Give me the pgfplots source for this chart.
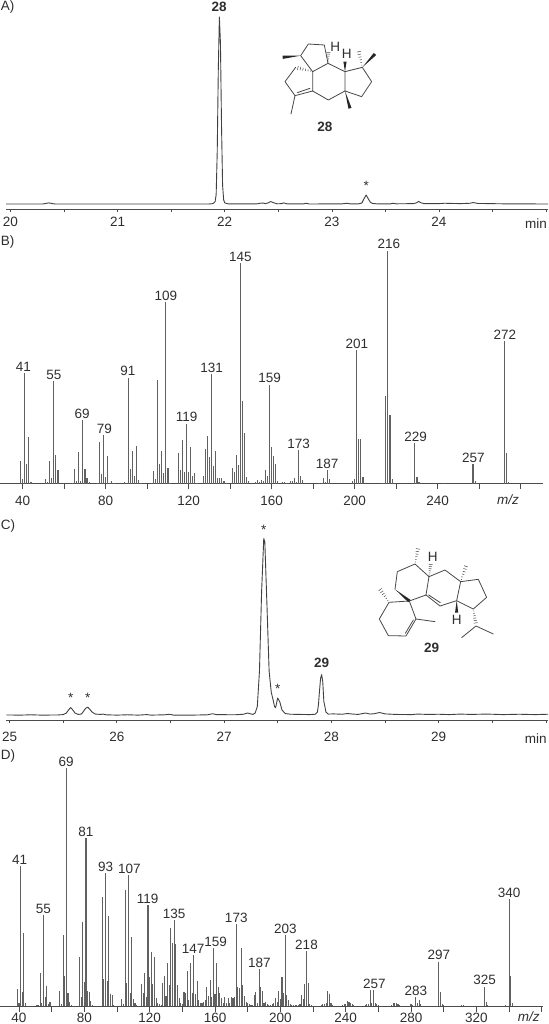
\documentclass[border=0pt]{standalone}
\usepackage{pgfplots}
\pgfplotsset{compat=1.18}
\usetikzlibrary{calc}
\usepackage{fontspec}
\setmainfont{Liberation Sans}
\newdimen\pu \pu=0.6pt % one pixel of the reference

\colorlet{ink}{black!82}
\pgfplotsset{
  panel/.style={
    scale only axis, width=#1, clip=false,
    axis x line=bottom, axis y line=none,
    axis line style={-,black!70,line width=0.8\pu},
    tick align=outside,
    every tick/.style={black!70,line width=0.7\pu},
    minor tick style={black!70,line width=0.7\pu},
    tick label style={font=\fontsize{8.1}{9.7}\selectfont,text=ink},
    /pgf/number format/assume math mode=true,
  },
  ticks/.style 2 args={
    major tick length=#1\pu, minor tick length=#1\pu,
    x tick label style={inner sep=0pt,anchor=base,yshift=#2\pu},
  },
  chrom/.style={no marks,sharp plot,black!75,line width=0.9\pu,line join=round},
  ms/.style={no marks,ycomb,black!62,line width=1.1\pu},
}
\tikzset{
  txt/.style={font=\fontsize{8.1}{9.7}\selectfont,text=ink,inner sep=0pt},
  pk/.style={txt,anchor=south,yshift=1.2\pu},
  bond/.style={draw=black!72,line width=0.8\pu,line cap=round,line join=round},
}
% mass peak label: [xshift in px]{m/z}{intensity}{text}
\newcommand{\pk}[4][0]{\node[pk,xshift=#1\pu] at (axis cs:#2,#3) {#4};}
% stereo bonds for the drawn structures
\newcommand{\wdg}[2]{\fill[black!85] (#1) -- ($(#2)!1.6\pu!90:(#1)$) -- ($(#2)!1.6\pu!-90:(#1)$) -- cycle;}
\newcommand{\hashed}[2]{\foreach \q/\w in {.12/0.5,.27/0.8,.42/1.1,.57/1.4,.72/1.7,.87/2.0,1/2.3}{
  \draw[black!72,line width=0.5\pu] ($(#1)!\q!(#2)!\w\pu!90:(#2)$) -- ($(#1)!\q!(#2)!\w\pu!-90:(#2)$);}}

\begin{document}
\begin{tikzpicture}
\path[use as bounding box] (0,0) rectangle (549\pu,-1024\pu);

% ---- A) chromatogram
\begin{axis}[panel=542\pu, ticks={2.8}{-14.6}, height=199.5\pu, at={(6\pu,-209.5\pu)}, anchor=south west,
  xmin=19.958, xmax=25.018, ymin=-2.94, ymax=103.7,
  xtick={20,21,22,23,24,25}, xticklabels={20,21,22,23,24,},
  minor xtick={20.5,21.5,22.5,23.5,24.5}]
\addplot[chrom] coordinates {
(19.96,0)(20.1,0)(20.3,0)(20.33,.3)(20.36,.6)(20.39,.2)(20.42,0)(20.8,0)(21.2,0)(21.6,0)
(21.85,0)(21.89,.2)(21.91,1.2)(21.92,5)(21.93,28)(21.94,72)(21.95,100)(21.96,86)(21.97,42)
(21.98,10)(21.99,2.2)(22.0,.6)(22.03,.1)(22.3,.05)(22.33,.4)(22.36,.5)(22.38,.2)(22.40,.5)
(22.43,1.3)(22.46,.6)(22.49,.1)(22.53,.2)(22.55,.6)(22.58,.1)(22.74,.1)(22.76,.4)(22.79,0)
(23.1,.1)(23.14,.4)(23.17,.1)(23.25,.1)(23.28,.5)(23.30,2.8)(23.32,4.8)(23.34,2.8)(23.36,.9)
(23.38,.3)(23.42,.1)(23.55,.1)(23.57,.4)(23.6,.1)(23.76,.2)(23.79,.6)(23.81,1.4)(23.83,.7)
(23.86,.2)(24.0,.2)(24.05,.4)(24.2,.2)(24.29,.4)(24.32,.8)(24.36,.3)(24.6,.1)(25.02,0)};
\node[txt,anchor=base east] at (axis cs:25.01,-13.2) {min};
\node[txt] at (axis cs:23.32,9.7) {*};
\end{axis}

% ---- B) mass spectrum of 28
\begin{axis}[panel=542.7\pu, ticks={5.5}{-16.6}, height=238.7\pu, at={(0\pu,-483.7\pu)}, anchor=south west,
  xmin=29.06, xmax=290.6, ymin=0, ymax=102.4,
  xtick={40,80,120,160,200,240}, minor xtick={60,100,140,180,220,260,280},
  xticklabels={40,80,120,160,200,240}]
\addplot[ms] coordinates {
(39,9.9)(40,1.9)(41,47.6)(42,8.4)(43,20.2)(44,.9)(51,1.9)(52,.9)(53,9.7)(54,2.3)(55,44)(56,12.3)(57,5.9)
(63,.4)(64,.4)(65,6.3)(66,1.1)(67,13.6)(68,1.1)(69,27.3)(70,6.3)(71,2.6)(72,.6)
(76,.3)(77,17.7)(78,4.1)(79,20.9)(80,2.9)(81,12)(82,.5)(83,1)(84,.4)
(89,.7)(90,.3)(91,45.5)(92,6.3)(93,13.9)(94,3.3)(95,16.2)(96,1.6)(97,.4)
(102,.2)(103,5.4)(104,1.9)(105,44.5)(106,8.4)(107,13.9)(108,4.7)(109,77.8)(110,6.9)(111,.5)
(115,13.3)(116,5.9)(117,18.7)(118,5.2)(119,25.8)(120,5.2)(121,15.6)(122,3.4)(123,4.4)(124,.4)
(127,3.3)(128,14.7)(129,20.5)(130,11.6)(131,47)(132,7.6)(133,13.9)(134,2.6)(135,2.4)(136,2.3)(137,1.3)(138,.4)
(141,6.7)(142,5.2)(143,12.4)(144,8)(145,94.8)(146,35.3)(147,21.7)(148,2.9)(149,1)
(152,.7)(153,1.7)(154,.6)(155,1.7)(156,1.1)(157,5.7)(158,3.4)(159,42.5)(160,15.7)(161,12)(162,8.3)(163,1)
(165,.6)(166,.6)(167,.4)(169,1)(170,1)(171,2.3)(172,.9)(173,14.6)(174,3.4)(175,1.6)
(183,.3)(184,.5)(185,2.3)(186,.7)(187,6)(188,1.9)
(199,1.1)(200,1.9)(201,57.4)(202,19.2)(203,19.2)(204,2.9)
(213,.3)(214,.4)(215,37.6)(216,100)(217,29.5)(218,1.9)
(229,17.6)(230,2.9)(231,.6)(243,.3)(257,8.3)(258,1.1)(272,61.2)(273,13)(274,.9)};
\pk[-1.5]{41}{47.6}{41}\pk{55}{44}{55}\pk[-0.7]{69}{27.3}{69}\pk[0.7]{79}{20.9}{79}
\pk[-0.7]{91}{45.5}{91}\pk{109}{77.8}{109}\pk{119}{25.8}{119}\pk{131}{47}{131}
\pk[-0.3]{145}{94.8}{145}\pk{159}{42.5}{159}\pk{173}{14.6}{173}\pk[-0.7]{187}{6}{187}
\pk{201}{57.4}{201}\pk[1]{216}{100}{216}\pk[0.7]{229}{17.6}{229}\pk[0.3]{257}{8.3}{257}\pk[0.7]{272}{61.2}{272}
\node[txt,anchor=base] at (axis cs:273.9,-9) {\textit{m/z}};
\end{axis}

% ---- C) chromatogram
\begin{axis}[panel=542\pu, ticks={2.8}{-18.6}, height=190.5\pu, at={(6\pu,-720.5\pu)}, anchor=south west,
  xmin=24.967, xmax=30.02, ymin=-2.94, ymax=104.8,
  xtick={25,26,27,28,29,30}, xticklabels={25,26,27,28,29,},
  minor xtick={25.5,26.5,27.5,28.5,29.5}]
\addplot[chrom] coordinates {
(24.97,.2)(25.1,.1)(25.2,.3)(25.3,.1)(25.45,.2)(25.5,.4)(25.53,1.3)(25.55,3)(25.57,4.4)(25.59,3)(25.61,1.3)
(25.64,.5)(25.67,.7)(25.69,2.3)(25.71,4)(25.73,4.6)(25.75,3.3)(25.77,1.8)(25.8,.7)(25.85,.5)(25.87,.7)(25.9,.3)
(26.0,.1)(26.1,.3)(26.2,.1)(26.28,.4)(26.32,.1)(26.45,.3)(26.49,.6)(26.53,.1)(26.7,.1)(26.85,.3)(26.89,.9)(26.93,.4)
(27.1,.3)(27.18,.6)(27.22,1.3)(27.25,.8)(27.27,.5)(27.29,1.3)(27.31,5)(27.33,25)(27.35,70)(27.37,100)(27.38,98)
(27.40,62)(27.42,25)(27.44,13)(27.46,8)(27.47,5)(27.48,4.3)(27.49,7)(27.50,9.8)(27.52,7.5)(27.54,3)(27.57,1)
(27.62,.6)(27.8,.4)(27.85,.6)(27.87,1.8)(27.88,6)(27.89,14)(27.90,21)(27.91,23)(27.92,19)(27.93,8)(27.95,1.8)(27.97,.7)
(28.02,.8)(28.1,.6)(28.15,1)(28.2,.7)(28.25,.5)(28.32,1.3)(28.36,.7)(28.4,.9)(28.45,1.6)(28.5,.8)(28.6,.5)(28.75,.4)
(28.8,.7)(28.9,.5)(29,.6)(29.1,.4)(29.2,.7)(29.3,.5)(29.45,.7)(29.6,.4)(29.75,.6)(29.9,.4)(30.02,.6)};
\node[txt,anchor=base east] at (axis cs:30.01,-16.2) {min};
\node[txt] at (axis cs:25.57,9.8) {*};
\node[txt] at (axis cs:25.73,9.8) {*};
\node[txt] at (axis cs:27.37,105) {*};
\node[txt] at (axis cs:27.50,15.2) {*};
\node[txt] at (axis cs:27.91,29.5) {\textbf{29}};
\end{axis}

% ---- D) mass spectrum of 29
\begin{axis}[panel=542.7\pu, ticks={5.5}{-11}, height=246.3\pu, at={(0\pu,-1006.3\pu)}, anchor=south west,
  xmin=28.37, xmax=360.6, ymin=0, ymax=103.5,
  xtick={40,80,120,160,200,240,280,320}, minor xtick={60,100,140,180,220,260,300,340,360},
  xticklabels={40,80,120,160,200,240,280,320}]
\addplot[ms] coordinates {
(39,7.1)(40,1.3)(41,59)(42,6.2)(43,31)(44,1.3)(51,.5)(52,.6)(53,13.9)(54,1.3)(55,38.5)(56,4)(57,8.5)(58,.8)(59,2)
(65,6.6)(66,1)(67,30)(68,12.7)(69,100)(70,5.7)(71,2)(72,.5)
(77,20.7)(78,4)(79,35.4)(80,10.4)(81,70.7)(82,6.6)(83,5.9)(84,2.3)(85,.5)
(91,46)(92,11.3)(93,56)(94,10.8)(95,38)(96,5.2)(97,4.8)(98,.7)
(103,3.2)(104,.8)(105,49)(106,10)(107,55)(108,5.5)(109,29)(110,3)(111,1.5)(112,.5)
(115,9.4)(116,5.7)(117,14)(118,4)(119,42.6)(120,12.5)(121,22.8)(122,9.2)(123,20.6)(124,3.4)(125,1.5)(126,1)
(127,.7)(128,9.7)(129,12.7)(130,4.3)(131,18)(132,9)(133,33)(134,26.5)(135,36.3)(136,26)(137,9)(138,3.4)(139,1.3)(140,1)
(141,5.9)(142,5.5)(143,15)(144,2.7)(145,18)(146,5.5)(147,21.6)(148,5.2)(149,10.8)(150,2.7)(151,1.5)(152,1.5)(153,2)(154,2.5)
(155,8.3)(156,4.3)(157,11)(158,4)(159,24.5)(160,5)(161,18.2)(162,8.3)(163,5.5)(164,3.4)(165,1.5)(166,4)(167,1.5)(168,3.4)(169,1.5)
(170,4)(171,3.4)(172,3.8)(173,34.6)(174,8.3)(175,7.6)(176,24.4)(177,9)(178,4.3)(179,1.8)(180,1.4)(181,1)(182,.7)(183,.7)
(184,4.6)(185,6.2)(186,1.5)(187,15.7)(188,8)(189,6.4)(190,1.5)(191,2)(192,1)(193,.7)(194,.7)(195,1)(196,1.4)
(197,3.4)(198,2)(199,6.6)(200,3)(201,12.5)(202,5.5)(203,30)(204,4.8)(205,2.8)(206,1)(207,.5)(208,.5)(209,.5)(210,.5)(211,.5)(212,1)
(213,4.8)(214,3)(215,9.4)(216,23.2)(217,9.7)(218,1)(219,.5)(225,.5)(226,1)(227,1)(228,1.2)(229,6.6)(230,5.2)(231,1.5)(232,.5)
(238,.7)(239,.8)(240,1)(241,2.4)(242,1.7)(243,1.4)(244,1)(245,.7)(252,.5)(253,1)(254,1)(255,6.9)(256,1.5)(257,6.9)(258,1.5)(259,1)(260,.5)
(268,.5)(269,1.2)(270,1.4)(271,1.6)(272,1)(273,.4)(280,1)(281,.4)(283,3.8)(284,1.4)(285,2.7)(286,1)
(297,18.8)(298,6)(299,1)(300,.7)(311,.7)(312,.7)(325,8.3)(326,2)(327,.5)(338,.5)(340,45)(341,12.7)(342,1.5)};
\pk[-1]{41}{59}{41}\pk{55}{38.5}{55}\pk[-0.3]{69}{100}{69}\pk{81}{70.7}{81}\pk{93}{56}{93}\pk[1]{107}{55}{107}
\pk[-0.5]{119}{42.6}{119}\pk{135}{36.3}{135}\pk[-0.7]{147}{21.6}{147}\pk[2.3]{159}{24.5}{159}\pk{173}{34.6}{173}\pk[0.3]{187}{15.7}{187}
\pk{203}{30}{203}\pk{216}{23.2}{218}\pk[1]{257}{6.9}{257}\pk{283}{3.8}{283}\pk{297}{18.8}{297}\pk{325}{8.3}{325}\pk{340}{45}{340}
\node[txt,anchor=base] at (axis cs:352,-6.2) {\textit{m/z}};
\end{axis}

% panel letters and the peak name
\node[txt,anchor=west] at (0.5\pu,-6.8\pu) {A)};
\node[txt,anchor=west] at (0.5\pu,-242\pu) {B)};
\node[txt,anchor=west] at (0.5\pu,-525.5\pu) {C)};
\node[txt,anchor=west] at (0.5\pu,-756\pu) {D)};
\node[txt] at (219.2\pu,-6.5\pu) {\textbf{28}};

% structure 28
\begin{scope}[shift={(260\pu,-30\pu)},x=0.3333\pu,y=-0.3333\pu]
\coordinate (a) at (122,77); \coordinate (b) at (145,42); \coordinate (c) at (193,45);
\coordinate (d) at (204,100); \coordinate (e) at (158,125); \coordinate (f) at (158,183);
\coordinate (g) at (105,197); \coordinate (h) at (75,155); \coordinate (i) at (107,112);
\coordinate (j) at (205,210); \coordinate (k) at (255,183); \coordinate (l) at (255,125);
\coordinate (m) at (307,112); \coordinate (n) at (335,155); \coordinate (o) at (305,200);
\path[bond] (e)--(a)--(b)--(c)--(d)--(e)--(f)--(g)--(h)--(i);
\path[bond] (f)--(j)--(k)--(l)--(d);
\path[bond] (l)--(m)--(n)--(o)--(k);
\path[bond] (g)--(93,252);
\path[bond] (112,188)--(150,175);
\hashed{e}{i}
\hashed{d}{205,62}
\hashed{m}{295,58}
\wdg{a}{68,82}
\wdg{m}{345,72}
\wdg{k}{270,235}
\wdg{l}{255,95}
\node[txt] at (226,50) {H};
\node[txt] at (260,72) {H};
\node[txt] at (195,292) {\textbf{28}};
\end{scope}

% structure 29
\begin{scope}[shift={(360\pu,-540\pu)},x=0.3333\pu,y=-0.3333\pu]
\coordinate (A) at (165,72); \coordinate (B) at (207,110); \coordinate (C) at (255,90);
\coordinate (D) at (302,125); \coordinate (E) at (355,118); \coordinate (F) at (380,172);
\coordinate (G) at (340,207); \coordinate (H) at (290,182); \coordinate (I) at (240,198);
\coordinate (J) at (198,165); \coordinate (K) at (148,183); \coordinate (L) at (112,95);
\coordinate (M) at (105,148); \coordinate (N) at (87,187); \coordinate (O) at (58,237);
\coordinate (P) at (85,287); \coordinate (Q) at (138,288); \coordinate (R) at (168,237);
\path[bond] (K)--(J)--(B)--(A)--(L)--(M);
\path[bond] (B)--(C)--(D)--(E)--(F)--(G)--(H)--(D);
\path[bond] (J)--(I)--(H);
\path[bond] (K)--(N)--(O)--(P)--(Q)--(R)--(K);
\path[bond] (R)--(225,245);
\path[bond] (206,165)--(241,188);
\path[bond] (136,280)--(160,240);
\path[bond] (305,293)--(348,258)--(400,282);
\hashed{A}{175,20}
\hashed{B}{213,68}
\hashed{D}{320,72}
\hashed{N}{57,143}
\hashed{G}{348,255}
\wdg{M}{K}
\wdg{H}{290,218}
\node[txt] at (218,50) {H};
\node[txt] at (290,240) {H};
\node[txt] at (215,325) {\textbf{29}};
\end{scope}
\end{tikzpicture}
\end{document}
